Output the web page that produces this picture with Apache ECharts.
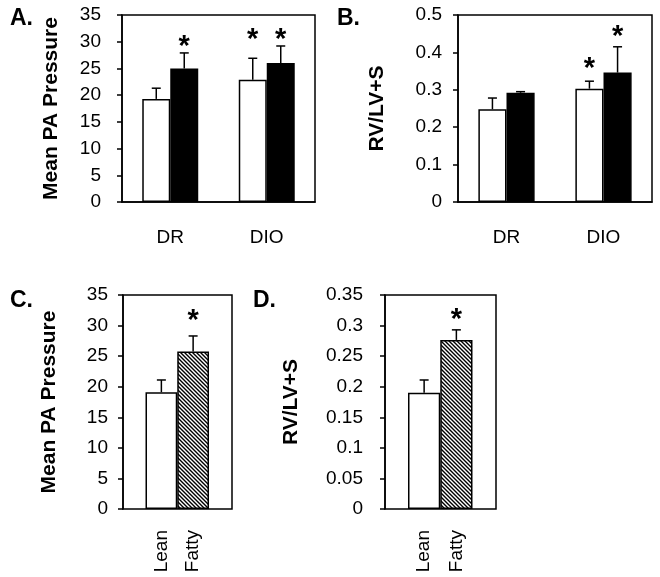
<!DOCTYPE html>
<html>
<head>
<meta charset="utf-8">
<script src="https://cdn.jsdelivr.net/npm/echarts@6/dist/echarts.min.js"></script>
<style>
  body { margin: 0; background: #fff; }
  #chart { width: 660px; height: 577px; }
</style>
</head>
<body>
<div id="chart"></div>
<script>
// panel A / B : DR vs DIO, white and black bars
const groups = ['DR', 'DIO'];
const aWhite = [19.3, 22.9];
const aWhiteErr = [2.0, 4.0];
const aBlack = [25.0, 26.0];
const aBlackErr = [2.9, 3.2];
const aStarWhite = [null, 31.4];
const aStarBlack = [30.2, 31.4];

const bWhite = [0.248, 0.303];
const bWhiteErr = [0.030, 0.020];
const bBlack = [0.292, 0.346];
const bBlackErr = [0.003, 0.069];
const bStarWhite = [null, 0.372];
const bStarBlack = [null, 0.458];

// panel C / D : Lean vs Fatty
const strains = ['Lean', 'Fatty'];
const cValues = [19.1, 25.75];
const cErr = [2.0, 2.55];
const cStar = [null, 31.7];
const dValues = [0.190, 0.2765];
const dErr = [0.021, 0.0165];
const dStar = [null, 0.3195];

const FONT = 'Liberation Sans, Arial, sans-serif';
const barShare = 0.29;

function hatch() {
    const c = document.createElement('canvas');
    c.width = 4;
    c.height = 4;
    const g = c.getContext('2d');
    g.fillStyle = '#fff';
    g.fillRect(0, 0, 4, 4);
    g.strokeStyle = '#000';
    g.lineWidth = 1.4;
    g.beginPath();
    g.moveTo(0, 0); g.lineTo(4, 4);
    g.moveTo(-1, 3); g.lineTo(1, 5);
    g.moveTo(3, -1); g.lineTo(5, 1);
    g.stroke();
    return c;
}

function errorItem(params, api) {
    const cat = api.value(0), val = api.value(1), err = api.value(2), side = api.value(3);
    const shift = side * api.size([1, 0])[0] * barShare / 2;
    const lo = api.coord([cat, val]);
    const hi = api.coord([cat, val + err]);
    const x = lo[0] + shift;
    const st = { stroke: '#000', lineWidth: 1.5 };
    return {
        type: 'group',
        children: [
            { type: 'line', shape: { x1: x, y1: lo[1], x2: x, y2: hi[1] }, style: st },
            { type: 'line', shape: { x1: x - 4.5, y1: hi[1], x2: x + 4.5, y2: hi[1] }, style: st }
        ]
    };
}

function starItem(params, api) {
    const cat = api.value(0), val = api.value(1), side = api.value(2);
    const shift = side * api.size([1, 0])[0] * barShare / 2;
    const p = api.coord([cat, val]);
    return {
        type: 'text',
        x: p[0] + shift,
        y: p[1] + 6,
        style: {
            text: '*',
            fill: '#000',
            font: 'bold 29px ' + FONT,
            align: 'center',
            verticalAlign: 'middle'
        }
    };
}

const errRows = (vals, errs, side) => vals.map((v, i) => [i, v, errs[i], side]);
const starRows = (vals, side) => vals.map((v, i) => [i, v, side]).filter(r => r[1] != null);

function valueAxis(grid, max, step, name, gap, margin, show) {
    return {
        type: 'value', gridIndex: grid, min: 0, max: max, interval: step, show: show,
        name: name, nameLocation: 'middle', nameGap: gap,
        nameTextStyle: { fontSize: 21, fontWeight: 'bold', color: '#000', fontFamily: FONT },
        axisLine: { show: true, lineStyle: { color: '#000', width: 1.5 } },
        axisTick: { show: true, length: 5, lineStyle: { color: '#000', width: 1.5 } },
        axisLabel: { fontSize: 19, color: '#000', fontFamily: FONT, margin: margin },
        splitLine: { show: false }
    };
}

function groupAxis(grid) {
    return {
        type: 'category', gridIndex: grid, data: groups,
        axisLine: { lineStyle: { color: '#000', width: 1.5 } },
        axisTick: { length: 6, lineStyle: { color: '#000', width: 1.5 } },
        axisLabel: { fontSize: 19, color: '#000', fontFamily: FONT, margin: 26 }
    };
}

function strainAxis(grid) {
    return {
        type: 'category', gridIndex: grid, data: strains,
        axisLine: { show: false },
        axisTick: { show: false },
        axisLabel: { fontSize: 19, color: '#000', fontFamily: FONT, rotate: 90, margin: 21 }
    };
}

const box = { show: true, borderColor: '#000', borderWidth: 1.5 };
const whiteBar = { color: '#fff', borderColor: '#000', borderWidth: 1.5 };
const blackBar = { color: '#000', borderColor: '#000', borderWidth: 1.5 };
const hatchBar = { color: { image: hatch(), repeat: 'repeat' }, borderColor: '#000', borderWidth: 1.5 };

const option = {
    animation: false,
    backgroundColor: '#fff',
    title: [
        { text: 'A.', left: 5, top: 2 },
        { text: 'B.', left: 332, top: 2 },
        { text: 'C.', left: 5, top: 284 },
        { text: 'D.', left: 248, top: 284 }
    ].map(t => Object.assign(t, { textStyle: { fontSize: 23, fontWeight: 'bold', color: '#000', fontFamily: FONT } })),
    grid: [
        Object.assign({ left: 122, top: 15, width: 193, height: 187 }, box),
        Object.assign({ left: 458, top: 15, width: 194, height: 187 }, box),
        Object.assign({ left: 123, top: 295, width: 109, height: 214 }, box),
        { left: 145.5, top: 295, width: 63.5, height: 214 },
        Object.assign({ left: 385, top: 295, width: 111, height: 214 }, box),
        { left: 408, top: 295, width: 64.5, height: 214 }
    ],
    xAxis: [
        groupAxis(0),
        groupAxis(1),
        { type: 'value', gridIndex: 2, show: false, min: 0, max: 1 },
        strainAxis(3),
        { type: 'value', gridIndex: 4, show: false, min: 0, max: 1 },
        strainAxis(5)
    ],
    yAxis: [
        valueAxis(0, 35, 5, 'Mean PA Pressure', 60, 21, true),
        valueAxis(1, 0.5, 0.1, 'RV/LV+S', 70, 16, true),
        valueAxis(2, 35, 5, 'Mean PA Pressure', 63, 15, true),
        valueAxis(3, 35, 5, '', 0, 0, false),
        valueAxis(4, 0.35, 0.05, 'RV/LV+S', 83, 22, true),
        valueAxis(5, 0.35, 0.05, '', 0, 0, false)
    ],
    series: [
        { type: 'bar', xAxisIndex: 0, yAxisIndex: 0, data: aWhite, barWidth: (barShare * 100) + '%', barGap: '0%', itemStyle: whiteBar },
        { type: 'bar', xAxisIndex: 0, yAxisIndex: 0, data: aBlack, barWidth: (barShare * 100) + '%', barGap: '0%', itemStyle: blackBar },
        { type: 'custom', xAxisIndex: 0, yAxisIndex: 0, renderItem: errorItem, data: errRows(aWhite, aWhiteErr, -1) },
        { type: 'custom', xAxisIndex: 0, yAxisIndex: 0, renderItem: errorItem, data: errRows(aBlack, aBlackErr, 1) },
        { type: 'custom', xAxisIndex: 0, yAxisIndex: 0, renderItem: starItem, data: starRows(aStarWhite, -1).concat(starRows(aStarBlack, 1)) },

        { type: 'bar', xAxisIndex: 1, yAxisIndex: 1, data: bWhite, barWidth: (barShare * 100) + '%', barGap: '0%', itemStyle: whiteBar },
        { type: 'bar', xAxisIndex: 1, yAxisIndex: 1, data: bBlack, barWidth: (barShare * 100) + '%', barGap: '0%', itemStyle: blackBar },
        { type: 'custom', xAxisIndex: 1, yAxisIndex: 1, renderItem: errorItem, data: errRows(bWhite, bWhiteErr, -1) },
        { type: 'custom', xAxisIndex: 1, yAxisIndex: 1, renderItem: errorItem, data: errRows(bBlack, bBlackErr, 1) },
        { type: 'custom', xAxisIndex: 1, yAxisIndex: 1, renderItem: starItem, data: starRows(bStarWhite, -1).concat(starRows(bStarBlack, 1)) },

        {
            type: 'bar', xAxisIndex: 3, yAxisIndex: 3, barCategoryGap: '0%',
            data: cValues.map((v, i) => ({ value: v, itemStyle: i === 0 ? whiteBar : hatchBar }))
        },
        { type: 'custom', xAxisIndex: 3, yAxisIndex: 3, renderItem: errorItem, data: errRows(cValues, cErr, 0) },
        { type: 'custom', xAxisIndex: 3, yAxisIndex: 3, renderItem: starItem, data: starRows(cStar, 0) },

        {
            type: 'bar', xAxisIndex: 5, yAxisIndex: 5, barCategoryGap: '0%',
            data: dValues.map((v, i) => ({ value: v, itemStyle: i === 0 ? whiteBar : hatchBar }))
        },
        { type: 'custom', xAxisIndex: 5, yAxisIndex: 5, renderItem: errorItem, data: errRows(dValues, dErr, 0) },
        { type: 'custom', xAxisIndex: 5, yAxisIndex: 5, renderItem: starItem, data: starRows(dStar, 0) }
    ]
};

const chart = echarts.init(document.getElementById('chart'));
chart.setOption(option);
</script>
</body>
</html>
